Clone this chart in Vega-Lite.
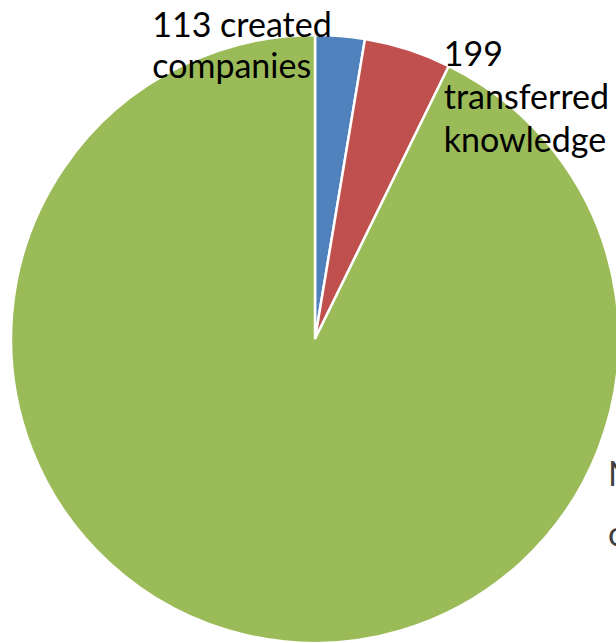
{
  "$schema": "https://vega.github.io/schema/vega-lite/v6.json",
  "width": 630,
  "height": 678,
  "autosize": "none",
  "padding": 0,
  "background": "white",
  "data": {
    "values": [
      {"n": 1, "category": "created companies", "value": 113, "label": ["113 created", "companies"]},
      {"n": 2, "category": "transferred knowledge", "value": 199, "label": ["199", "transferred", "knowledge"]},
      {"n": 3, "category": "other", "value": 3988, "label": ["Neither", "of these"]}
    ]
  },
  "encoding": {
    "theta": {"field": "value", "type": "quantitative", "stack": true},
    "order": {"field": "n", "type": "quantitative"}
  },
  "layer": [
    {
      "mark": {"type": "arc", "outerRadius": 304, "stroke": "white", "strokeWidth": 2.5},
      "encoding": {
        "color": {
          "field": "category",
          "type": "nominal",
          "scale": {
            "domain": ["created companies", "transferred knowledge", "other"],
            "range": ["#4F81BD", "#C0504D", "#9BBB59"]
          },
          "legend": null
        }
      }
    },
    {
      "mark": {"type": "text", "radius": 330, "align": "left", "baseline": "top", "dx": -190, "dy": 0, "font": "Lato", "fontSize": 34, "lineHeight": 41, "color": "black"},
      "encoding": {
        "text": {"condition": {"test": "datum.n === 1", "field": "label"}, "value": ""}
      }
    },
    {
      "mark": {"type": "text", "radius": 330, "align": "left", "baseline": "top", "dx": 28, "dy": 14, "font": "Lato", "fontSize": 34, "lineHeight": 43, "color": "black"},
      "encoding": {
        "text": {"condition": {"test": "datum.n === 2", "field": "label"}, "value": ""}
      }
    },
    {
      "mark": {"type": "text", "radius": 0, "align": "left", "baseline": "top", "dx": 293, "dy": 120, "font": "Lato", "fontSize": 34, "lineHeight": 60, "color": "#404040"},
      "encoding": {
        "text": {"condition": {"test": "datum.n === 3", "field": "label"}, "value": ""}
      }
    }
  ]
}
